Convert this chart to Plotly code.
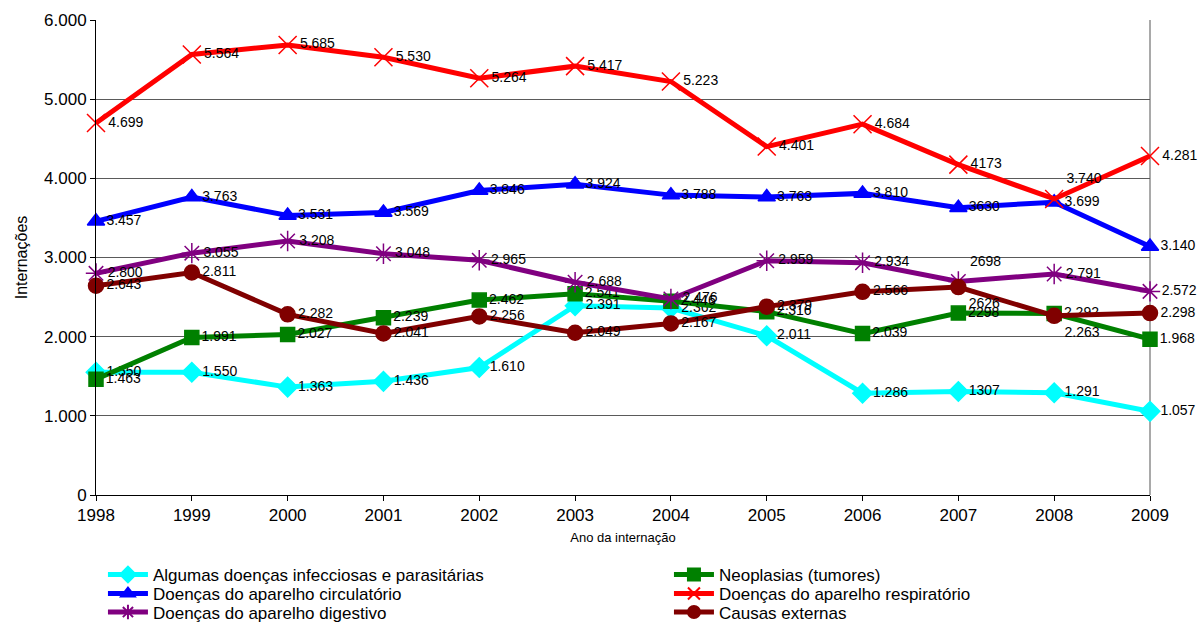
import plotly.graph_objects as go

# Anos do período analisado
anos = [1998, 1999, 2000, 2001, 2002, 2003, 2004, 2005, 2006, 2007, 2008, 2009]

# Internações por grupo de causas
infecciosas = [1550, 1550, 1363, 1436, 1610, 2391, 2362, 2011, 1286, 1307, 1291, 1057]
neoplasias = [1463, 1991, 2027, 2239, 2462, 2541, 2446, 2316, 2039, 2298, 2292, 1968]
circulatorio = [3457, 3763, 3531, 3569, 3846, 3924, 3788, 3763, 3810, 3630, 3699, 3140]
respiratorio = [4699, 5564, 5685, 5530, 5264, 5417, 5223, 4401, 4684, 4173, 3740, 4281]
digestivo = [2800, 3055, 3208, 3048, 2965, 2688, 2476, 2959, 2934, 2698, 2791, 2572]
externas = [2643, 2811, 2282, 2041, 2256, 2049, 2167, 2379, 2566, 2626, 2263, 2298]

y_ticks = [0, 1000, 2000, 3000, 4000, 5000, 6000]


def rotulo(v, sem_ponto=False):
    s = str(v)
    if sem_ponto or v < 1000:
        return s
    return s[:-3] + "." + s[-3:]


# (nome, valores, cor, símbolo, tamanho, coluna, linha, anos sem separador, posições especiais)
series = [
    ("Algumas doenças infecciosas e parasitárias", infecciosas, "#00FFFF", "diamond", 15,
     0, 0, {2007}, {}),
    ("Neoplasias (tumores)", neoplasias, "#008000", "square", 14,
     1, 0, {2007}, {}),
    ("Doenças do aparelho circulatório", circulatorio, "#0000FF", "triangle-up", 15,
     0, 1, {2007}, {}),
    ("Doenças do aparelho respiratório", respiratorio, "#FF0000", "x-thin-open", 18,
     1, 1, {2007}, {2008: "top right"}),
    ("Doenças do aparelho digestivo", digestivo, "#800080", "asterisk-open", 17,
     0, 2, {2007}, {2007: "top right"}),
    ("Causas externas", externas, "#800000", "circle", 15,
     1, 2, {2007}, {2007: "bottom right", 2008: "bottom right"}),
]

# Posição das entradas da legenda (coordenadas do papel)
colunas_x = [0.0066, 0.5436]
linhas_y = [-0.1684, -0.2084, -0.2474]

fig = go.Figure()
legendas = {}
for i, (nome, vals, cor, simb, tam, col, lin, sem_ponto, pos) in enumerate(series):
    textos = [rotulo(v, a in sem_ponto) for a, v in zip(anos, vals)]
    posicoes = [pos.get(a, "middle right") for a in anos]
    chave = "legend" if i == 0 else f"legend{i + 1}"
    fig.add_trace(go.Scatter(
        x=anos, y=vals, name=nome, legend=chave,
        mode="lines+markers+text",
        line=dict(color=cor, width=5),
        marker=dict(symbol=simb, size=tam, color=cor,
                    line=dict(color=cor, width=1.5)),
        text=textos, textposition=posicoes,
        textfont=dict(family="Liberation Sans, Arial", size=14, color="black"),
        cliponaxis=False,
    ))
    legendas[chave] = dict(
        orientation="v",
        x=colunas_x[col], xanchor="left",
        y=linhas_y[lin], yanchor="middle",
        font=dict(family="Liberation Sans, Arial", size=17, color="black"),
        bgcolor="rgba(0,0,0,0)",
        itemwidth=40,
        itemsizing="constant",
    )

fig.update_layout(
    width=1204, height=622,
    margin=dict(l=96, r=54, t=20, b=127, autoexpand=False),
    paper_bgcolor="white", plot_bgcolor="white",
    separators=",.",
    font=dict(family="Liberation Sans, Arial", color="black"),
    showlegend=True,
    xaxis=dict(
        range=[1998, 2009],
        tickmode="array", tickvals=anos, ticktext=[str(a) for a in anos],
        showgrid=False, zeroline=False,
        showline=True, linecolor="black", linewidth=1,
        ticks="outside", ticklen=5, tickcolor="black",
        tickfont=dict(size=17),
        title=dict(text="Ano da internação", font=dict(size=13), standoff=8),
    ),
    yaxis=dict(
        range=[0, 6000],
        tickmode="array", tickvals=y_ticks,
        ticktext=[rotulo(v) for v in y_ticks],
        showgrid=True, gridcolor="#5a5a5a", gridwidth=1,
        zeroline=False,
        showline=True, linecolor="black", linewidth=1,
        ticks="outside", ticklen=5, tickcolor="black",
        tickfont=dict(size=17),
        title=dict(text="Internações", font=dict(size=16), standoff=12),
    ),
    shapes=[dict(type="line", xref="paper", yref="paper", x0=1, x1=1, y0=0, y1=1,
                 line=dict(color="#8c8c8c", width=1.5), layer="below")],
    **legendas,
)

fig.write_html("out.html")
